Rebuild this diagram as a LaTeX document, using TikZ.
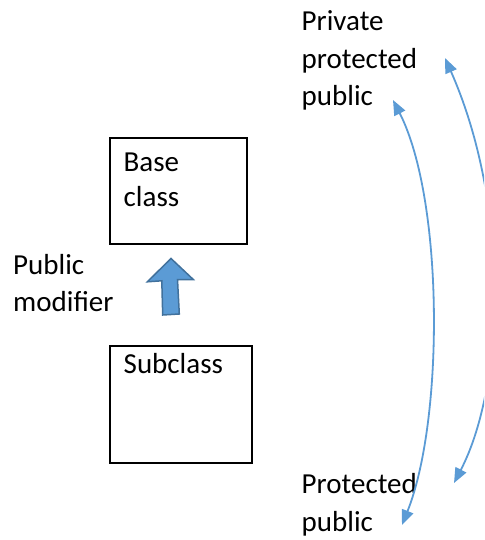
\documentclass[tikz,border=0pt]{standalone}
\usepackage{fontspec}
\setmainfont{Carlito}
\usetikzlibrary{arrows.meta}
\definecolor{accent}{HTML}{5B9BD5}
\definecolor{accentdark}{HTML}{41719C}
\begin{document}
\begin{tikzpicture}[x=1pt,y=-1pt,
  classbox/.style={draw=black,line width=2pt,rectangle,inner sep=0pt},
  txt/.style={inner sep=0pt,anchor=base west,align=left,
    font=\fontsize{29}{37.7}\selectfont},
  access/.style={draw=accent,line width=1.8pt,
    {Triangle[length=15pt,width=12pt]}-{Triangle[length=15pt,width=12pt]}}]
\useasboundingbox (0,0) rectangle (484,540);
\clip (0,0) rectangle (484,540);

% class boxes
\node[classbox,minimum width=137pt,minimum height=106pt] (base) at (178.3,191) {};
\node[classbox,minimum width=142pt,minimum height=117pt] (sub) at (181.3,404.5) {};
\node[txt,font=\fontsize{29}{35}\selectfont] (basetxt) at (123.5,206.7) {Base\\class};
\node[txt] (subtxt) at (123.5,373.3) {Subclass};

% inheritance arrow
\filldraw[fill=accent,draw=accentdark,line width=1.5pt,line join=miter]
  (171,258.5) -- (193.3,279.5) -- (177.5,279.5) -- (179.3,314) --
  (162.7,315) -- (161.8,280.8) -- (147.3,281.8) -- cycle;
\node[txt] (modtxt) at (13,311.7) {Public\\modifier};

% access levels
\node[txt] (before) at (301.5,106) {Private\\protected\\public};
\node[txt] (after) at (301.5,531) {Protected\\public};

\coordinate (a1) at (393,100);
\coordinate (b1) at (402,525);
\coordinate (a2) at (445,58);
\coordinate (b2) at (454,483);
\draw[access] (a1) .. controls (444,200) and (444,420) .. (b1);
\draw[access] (a2) .. controls (510,205) and (505,385) .. (b2);
\end{tikzpicture}
\end{document}
